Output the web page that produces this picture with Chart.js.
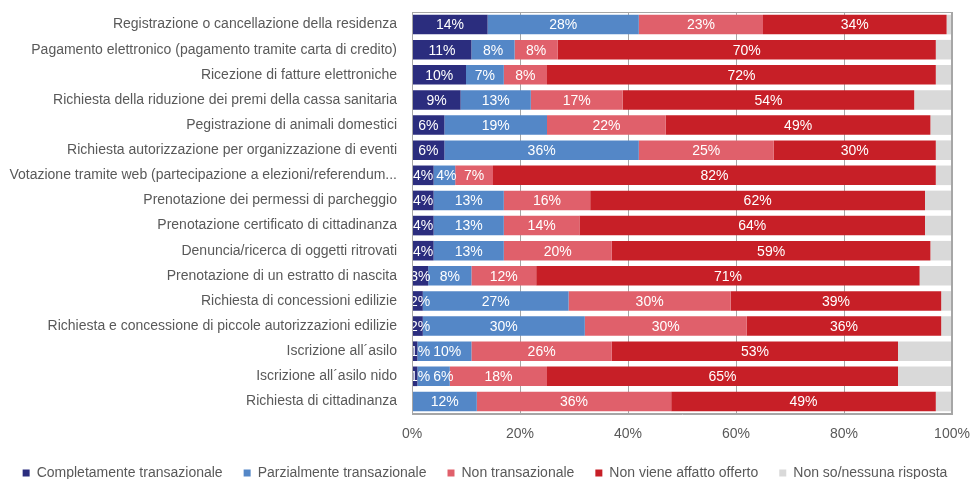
<!DOCTYPE html>
<html>
<head>
<meta charset="utf-8">
<script src="https://cdn.jsdelivr.net/npm/chart.js@4"></script>
<style>
  html, body { margin: 0; padding: 0; background: #fff; }
  #wrap { width: 970px; height: 479px; }
</style>
</head>
<body>
<div id="wrap"><canvas id="chart"></canvas></div>
<script>
const categories = [
  "Registrazione o cancellazione della residenza",
  "Pagamento elettronico (pagamento tramite carta di credito)",
  "Ricezione di fatture elettroniche",
  "Richiesta della riduzione dei premi della cassa sanitaria",
  "Pegistrazione di animali domestici",
  "Richiesta autorizzazione per organizzazione di eventi",
  "Votazione tramite web (partecipazione a elezioni/referendum...",
  "Prenotazione dei permessi di parcheggio",
  "Prenotazione certificato di cittadinanza",
  "Denuncia/ricerca di oggetti ritrovati",
  "Prenotazione di un estratto di nascita",
  "Richiesta di concessioni edilizie",
  "Richiesta e concessione di piccole autorizzazioni edilizie",
  "Iscrizione all´asilo",
  "Iscrizione all´asilo nido",
  "Richiesta di cittadinanza"
];

const seriesNames = [
  "Completamente transazionale",
  "Parzialmente transazionale",
  "Non transazionale",
  "Non viene affatto offerto",
  "Non so/nessuna risposta"
];

const completamente = [14, 11, 10, 9, 6, 6, 4, 4, 4, 4, 3, 2, 2, 1, 1, 0];
const parzialmente  = [28, 8, 7, 13, 19, 36, 4, 13, 13, 13, 8, 27, 30, 10, 6, 12];
const nonTrans      = [23, 8, 8, 17, 22, 25, 7, 16, 14, 20, 12, 30, 30, 26, 18, 36];
const nonOfferto    = [34, 70, 72, 54, 49, 30, 82, 62, 64, 59, 71, 39, 36, 53, 65, 49];
const nonSo         = [1, 3, 3, 7, 4, 3, 3, 5, 5, 4, 6, 2, 2, 10, 10, 3];

const xTicks = [0, 20, 40, 60, 80, 100];

const colors = ["#2B2D7E", "#5487C7", "#E0606B", "#C71F27", "#D9D9D9"];
const FONT = "'Liberation Sans', Arial, sans-serif";
const TEXT = "#595959";

// white percentage labels inside the segments (not for the grey one)
// labels on one row are pushed right so they don't run into each other
const barLabels = {
  id: "barLabels",
  afterDatasetsDraw(chart) {
    const ctx = chart.ctx;
    const area = chart.chartArea;
    ctx.save();
    ctx.beginPath();
    ctx.rect(area.left, area.top, area.right - area.left, area.bottom - area.top);
    ctx.clip();
    ctx.font = "14px " + FONT;
    ctx.fillStyle = "#fff";
    ctx.textAlign = "center";
    ctx.textBaseline = "middle";
    chart.data.labels.forEach((_, i) => {
      let prevRight = area.left - 5;
      for (let d = 0; d < 4; d++) {
        const v = chart.data.datasets[d].data[i];
        if (!v) continue;
        const bar = chart.getDatasetMeta(d).data[i];
        const txt = v + "%";
        const w = ctx.measureText(txt).width;
        let cx = (bar.x + bar.base) / 2;
        cx = Math.max(cx, area.left + w / 2 - 2, prevRight + 3 + w / 2);
        ctx.fillText(txt, cx, bar.y + 1);
        prevRight = cx + w / 2;
      }
    });
    ctx.restore();
  }
};

// grey box round the plot area
const plotBox = {
  id: "plotBox",
  afterDatasetsDraw(chart) {
    const ctx = chart.ctx;
    const a = chart.chartArea;
    ctx.save();
    ctx.strokeStyle = "#A6A6A6";
    ctx.lineWidth = 1;
    ctx.strokeRect(Math.round(a.left) + 0.5, Math.round(a.top) + 0.5,
      Math.round(a.right - a.left) - 1, Math.round(a.bottom - a.top) - 1);
    ctx.restore();
  }
};

const series = [completamente, parzialmente, nonTrans, nonOfferto, nonSo];

new Chart(document.getElementById("chart"), {
  type: "bar",
  data: {
    labels: categories,
    datasets: series.map((vals, k) => ({
      label: seriesNames[k],
      data: vals,
      backgroundColor: colors[k],
      borderWidth: 0,
      barPercentage: 0.78,
      categoryPercentage: 1
    }))
  },
  options: {
    indexAxis: "y",
    responsive: true,
    maintainAspectRatio: false,
    animation: false,
    layout: { padding: { top: 12, right: 0, left: 0, bottom: -11 } },
    scales: {
      x: {
        stacked: true,
        min: 0,
        max: 100,
        afterBuildTicks: s => { s.ticks = xTicks.map(v => ({ value: v })); },
        afterFit: s => { s.paddingLeft = 0; s.paddingRight = 18; s.height = 31; },
        ticks: {
          callback: v => v + "%",
          color: TEXT,
          font: { family: FONT, size: 14 },
          padding: 12
        },
        grid: { color: "#A6A6A6", drawTicks: false },
        border: { display: true, color: "#A6A6A6" }
      },
      y: {
        stacked: true,
        afterFit: s => { s.width = 412; s.paddingTop = 0; s.paddingBottom = 0; },
        ticks: {
          color: TEXT,
          font: { family: FONT, size: 14 },
          padding: 15,
          autoSkip: false
        },
        grid: { display: false, drawTicks: false },
        border: { display: true, color: "#A6A6A6" }
      }
    },
    plugins: {
      legend: {
        position: "bottom",
        labels: {
          color: TEXT,
          font: { family: FONT, size: 14 },
          boxWidth: 7,
          boxHeight: 7,
          padding: 21
        }
      },
      tooltip: { enabled: false }
    }
  },
  plugins: [barLabels, plotBox]
});
</script>
</body>
</html>
